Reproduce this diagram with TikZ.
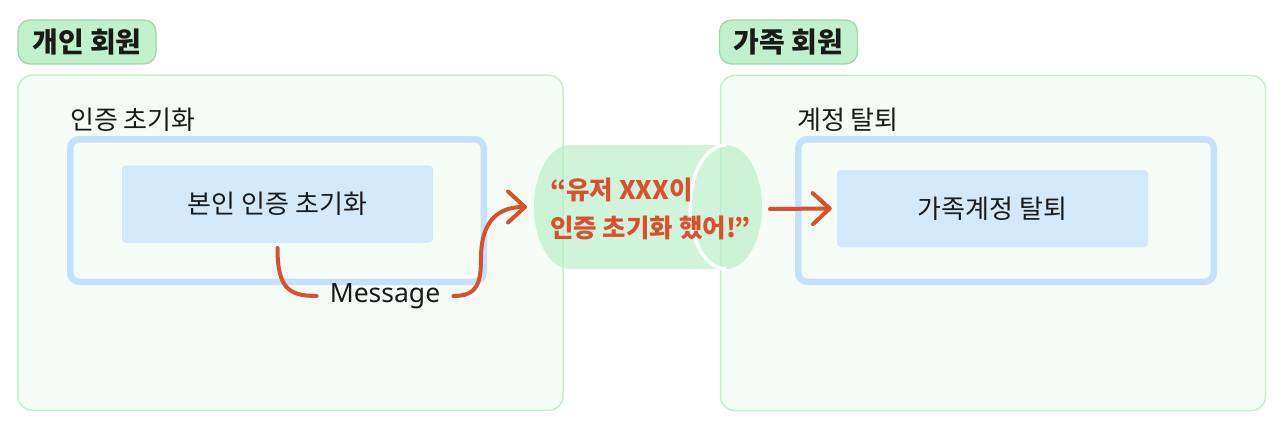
\documentclass[tikz,border=0pt]{standalone}
\usepackage{fontspec}
\setmainfont{Noto Sans CJK KR}
\newfontfamily\latinfont{Noto Sans}
\usetikzlibrary{arrows.meta}
\definecolor{lblfill}{HTML}{C1F1CC}
\definecolor{lbldraw}{HTML}{9FD8AC}
\definecolor{boxfill}{HTML}{F4FCF5}
\definecolor{boxdraw}{HTML}{C3F0CB}
\definecolor{frameblue}{HTML}{C5E1FA}
\definecolor{innerblue}{HTML}{D3E9F9}
\definecolor{accent}{HTML}{DA4F2E}
\definecolor{cylgreen}{HTML}{B3EDC1}
\definecolor{txt}{HTML}{1A1A1A}
\tikzset{
  grouplabel/.style={draw=lbldraw, line width=1.3pt, fill=lblfill, rounded corners=12pt,
    minimum width=138pt, minimum height=44pt, inner sep=0pt, text=txt,
    font=\fontsize{28}{32}\selectfont\bfseries},
  groupbox/.style={draw=boxdraw, line width=1.5pt, fill=boxfill, rounded corners=14pt,
    minimum width=545pt, minimum height=335pt, inner sep=0pt},
  framebox/.style={draw=frameblue, line width=6.5pt, rounded corners=9pt,
    minimum height=142.5pt, inner sep=0pt},
  innerbox/.style={fill=innerblue, rounded corners=4pt, minimum width=311pt,
    minimum height=77.5pt, inner sep=0pt, text=txt, font=\fontsize{26}{30}\selectfont},
  caption/.style={anchor=west, inner sep=0pt, text=txt, font=\fontsize{26}{30}\selectfont},
  flow/.style={draw=accent, line width=4pt, line cap=round,
    -{Straight Barb[length=17pt,width=31pt,line cap=round,line join=round]}},
  plain/.style={draw=accent, line width=4pt, line cap=round},
}
\begin{document}
\begin{tikzpicture}[x=1pt,y=-1pt]
\useasboundingbox (0,0) rectangle (1280,428);
% groups
\node[groupbox] (boxL) at (290.5,242.75) {};
\node[groupbox] (boxR) at (993,243) {};
\node[grouplabel] (lblL) at (87,42) {개인 회원};
\node[grouplabel] (lblR) at (788.5,42) {가족 회원};
% frames
\node[framebox, minimum width=413.5pt] (frL) at (277,210.5) {};
\node[framebox, minimum width=415.5pt] (frR) at (1006,210.5) {};
\node[caption] (capL) at (70,120) {인증 초기화};
\node[caption] (capR) at (797,120) {계정 탈퇴};
% inner boxes
\node[innerbox] (inL) at (277.5,204) {본인 인증 초기화};
\node[innerbox] (inR) at (992.5,208.5) {가족계정 탈퇴};
% message
\node[inner sep=0pt, text=txt, font=\latinfont\fontsize{26.5}{30}\selectfont] (msg) at (385,296) {Message};
% cylinder
\fill[cylgreen, opacity=0.62] (726,145) -- (570,145)
  arc[start angle=270,end angle=90,x radius=36,y radius=62] -- (726,269)
  arc[start angle=90,end angle=270,x radius=36,y radius=62] -- cycle;
\fill[cylgreen, opacity=0.62] (726,207) ellipse [x radius=36, y radius=62];
\draw[white, line width=3.5pt] (726,269) arc[start angle=90,end angle=270,x radius=36,y radius=62];
\coordinate (cylL) at (534,207);
\coordinate (cylOut) at (770,209);
\node[anchor=west, inner sep=0pt, align=left, text=accent,
  font=\fontsize{25.5}{38}\selectfont\bfseries] (said) at (550,209)
  {“유저 XXX이\\인증 초기화 했어!”};
% connectors
\draw[plain] ([yshift=-5pt]inL.south) .. controls +(0,40) and +(-28,0) .. ([xshift=-13pt]msg.west);
\draw[flow] ([xshift=13pt]msg.east) .. controls +(24,0) and +(0,25) .. (481,258)
  .. controls (481,226) and (494,207) .. ([xshift=-7pt]cylL);
\draw[flow] (cylOut) -- ([xshift=-5pt]inR.west);
\end{tikzpicture}
\end{document}
